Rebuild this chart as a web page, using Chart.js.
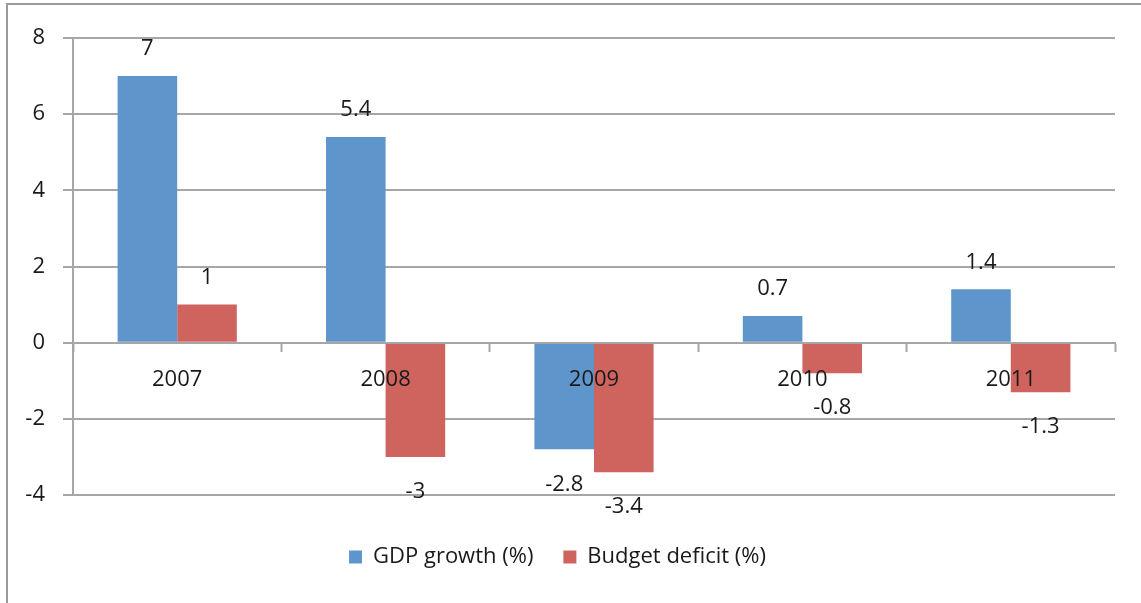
<!DOCTYPE html>
<html>
<head>
<meta charset="utf-8">
<script src="https://cdn.jsdelivr.net/npm/chart.js@4.4.1/dist/chart.umd.min.js"></script>
<style>
  html, body { margin: 0; padding: 0; background: #fff; }
  #wrap { width: 1141px; height: 603px; }
</style>
</head>
<body>
<div id="wrap"><canvas id="gdp-chart" width="1141" height="603"></canvas></div>
<script>
// data
const years = ['2007', '2008', '2009', '2010', '2011'];
const gdpGrowth = [7, 5.4, -2.8, 0.7, 1.4];
const budgetDeficit = [1, -3, -3.4, -0.8, -1.3];
const yTicks = [-4, -2, 0, 2, 4, 6, 8];

const FONT = '"Open Sans", sans-serif';
const FSIZE = 22;
const GRID = '#a6a6a6';

// value labels above / below each bar
const valueLabels = {
    id: 'valueLabels',
    afterDatasetsDraw(chart) {
        const ctx = chart.ctx;
        ctx.save();
        ctx.font = FSIZE + 'px ' + FONT;
        ctx.fillStyle = '#1a1a1a';
        ctx.textAlign = 'center';
        ctx.textBaseline = 'middle';
        chart.data.datasets.forEach((ds, i) => {
            chart.getDatasetMeta(i).data.forEach((bar, j) => {
                const v = ds.data[j];
                const y = v >= 0 ? bar.y - 27 : bar.y + 35;
                ctx.fillText(String(v), bar.x, y);
            });
        });
        ctx.restore();
    }
};

// outer frame of the figure (cropped on right and bottom)
const frame = {
    id: 'frame',
    beforeDraw(chart) {
        const ctx = chart.ctx;
        ctx.save();
        ctx.fillStyle = '#fff';
        ctx.fillRect(0, 0, chart.width, chart.height);
        ctx.strokeStyle = '#9a9a9a';
        ctx.lineWidth = 2;
        ctx.beginPath();
        ctx.moveTo(7, chart.height);
        ctx.lineTo(7, 4);
        ctx.lineTo(chart.width, 4);
        ctx.stroke();
        ctx.restore();
    }
};

// fixed legend height so plot area ends where the reference does
const legendHeight = {
    id: 'legendHeight',
    beforeLayout(chart) {
        const lg = chart.legend;
        if (lg && !lg._fixed) {
            const fit = lg.fit;
            lg.fit = function () { fit.call(this); this.height = 108; };
            lg._fixed = true;
        }
    }
};

const ctx = document.getElementById('gdp-chart');

new Chart(ctx, {
    type: 'bar',
    data: {
        labels: years,
        datasets: [{
            label: 'GDP growth (%)',
            data: gdpGrowth,
            backgroundColor: '#5e95ca'
        },
        {
            label: 'Budget deficit (%)',
            data: budgetDeficit,
            backgroundColor: '#cf635e'
        }]
    },
    options: {
        responsive: false,
        animation: false,
        layout: { padding: { left: 0, top: 38, right: 26, bottom: 0 } },
        datasets: { bar: { categoryPercentage: 0.572, barPercentage: 1 } },
        scales: {
            x: {
                position: { y: 0 },
                offset: true,
                grid: {
                    drawOnChartArea: false,
                    drawTicks: true,
                    tickLength: 8,
                    tickWidth: 2,
                    tickColor: GRID
                },
                border: { color: GRID, width: 2, z: 1 },
                ticks: {
                    z: 1,
                    font: { family: FONT, size: FSIZE },
                    color: '#1a1a1a',
                    padding: 16,
                    maxRotation: 0
                }
            },
            y: {
                min: -4,
                max: 8,
                afterFit(scale) { scale.width = 73; },
                afterBuildTicks(scale) { scale.ticks = yTicks.map(v => ({ value: v })); },
                grid: {
                    color: GRID,
                    lineWidth: 2,
                    drawTicks: true,
                    tickLength: 10
                },
                border: { color: GRID, width: 2 },
                ticks: {
                    font: { family: FONT, size: FSIZE },
                    color: '#1a1a1a',
                    padding: 18
                }
            }
        },
        plugins: {
            legend: {
                position: 'bottom',
                title: { display: true, text: '', font: { size: 14, lineHeight: 1 }, padding: { top: 0, bottom: 7 } },
                labels: {
                    font: { family: FONT, size: FSIZE },
                    color: '#1a1a1a',
                    boxWidth: 13,
                    boxHeight: 13,
                    padding: 30
                }
            },
            tooltip: { enabled: false }
        }
    },
    plugins: [frame, valueLabels, legendHeight]
});
</script>
</body>
</html>
